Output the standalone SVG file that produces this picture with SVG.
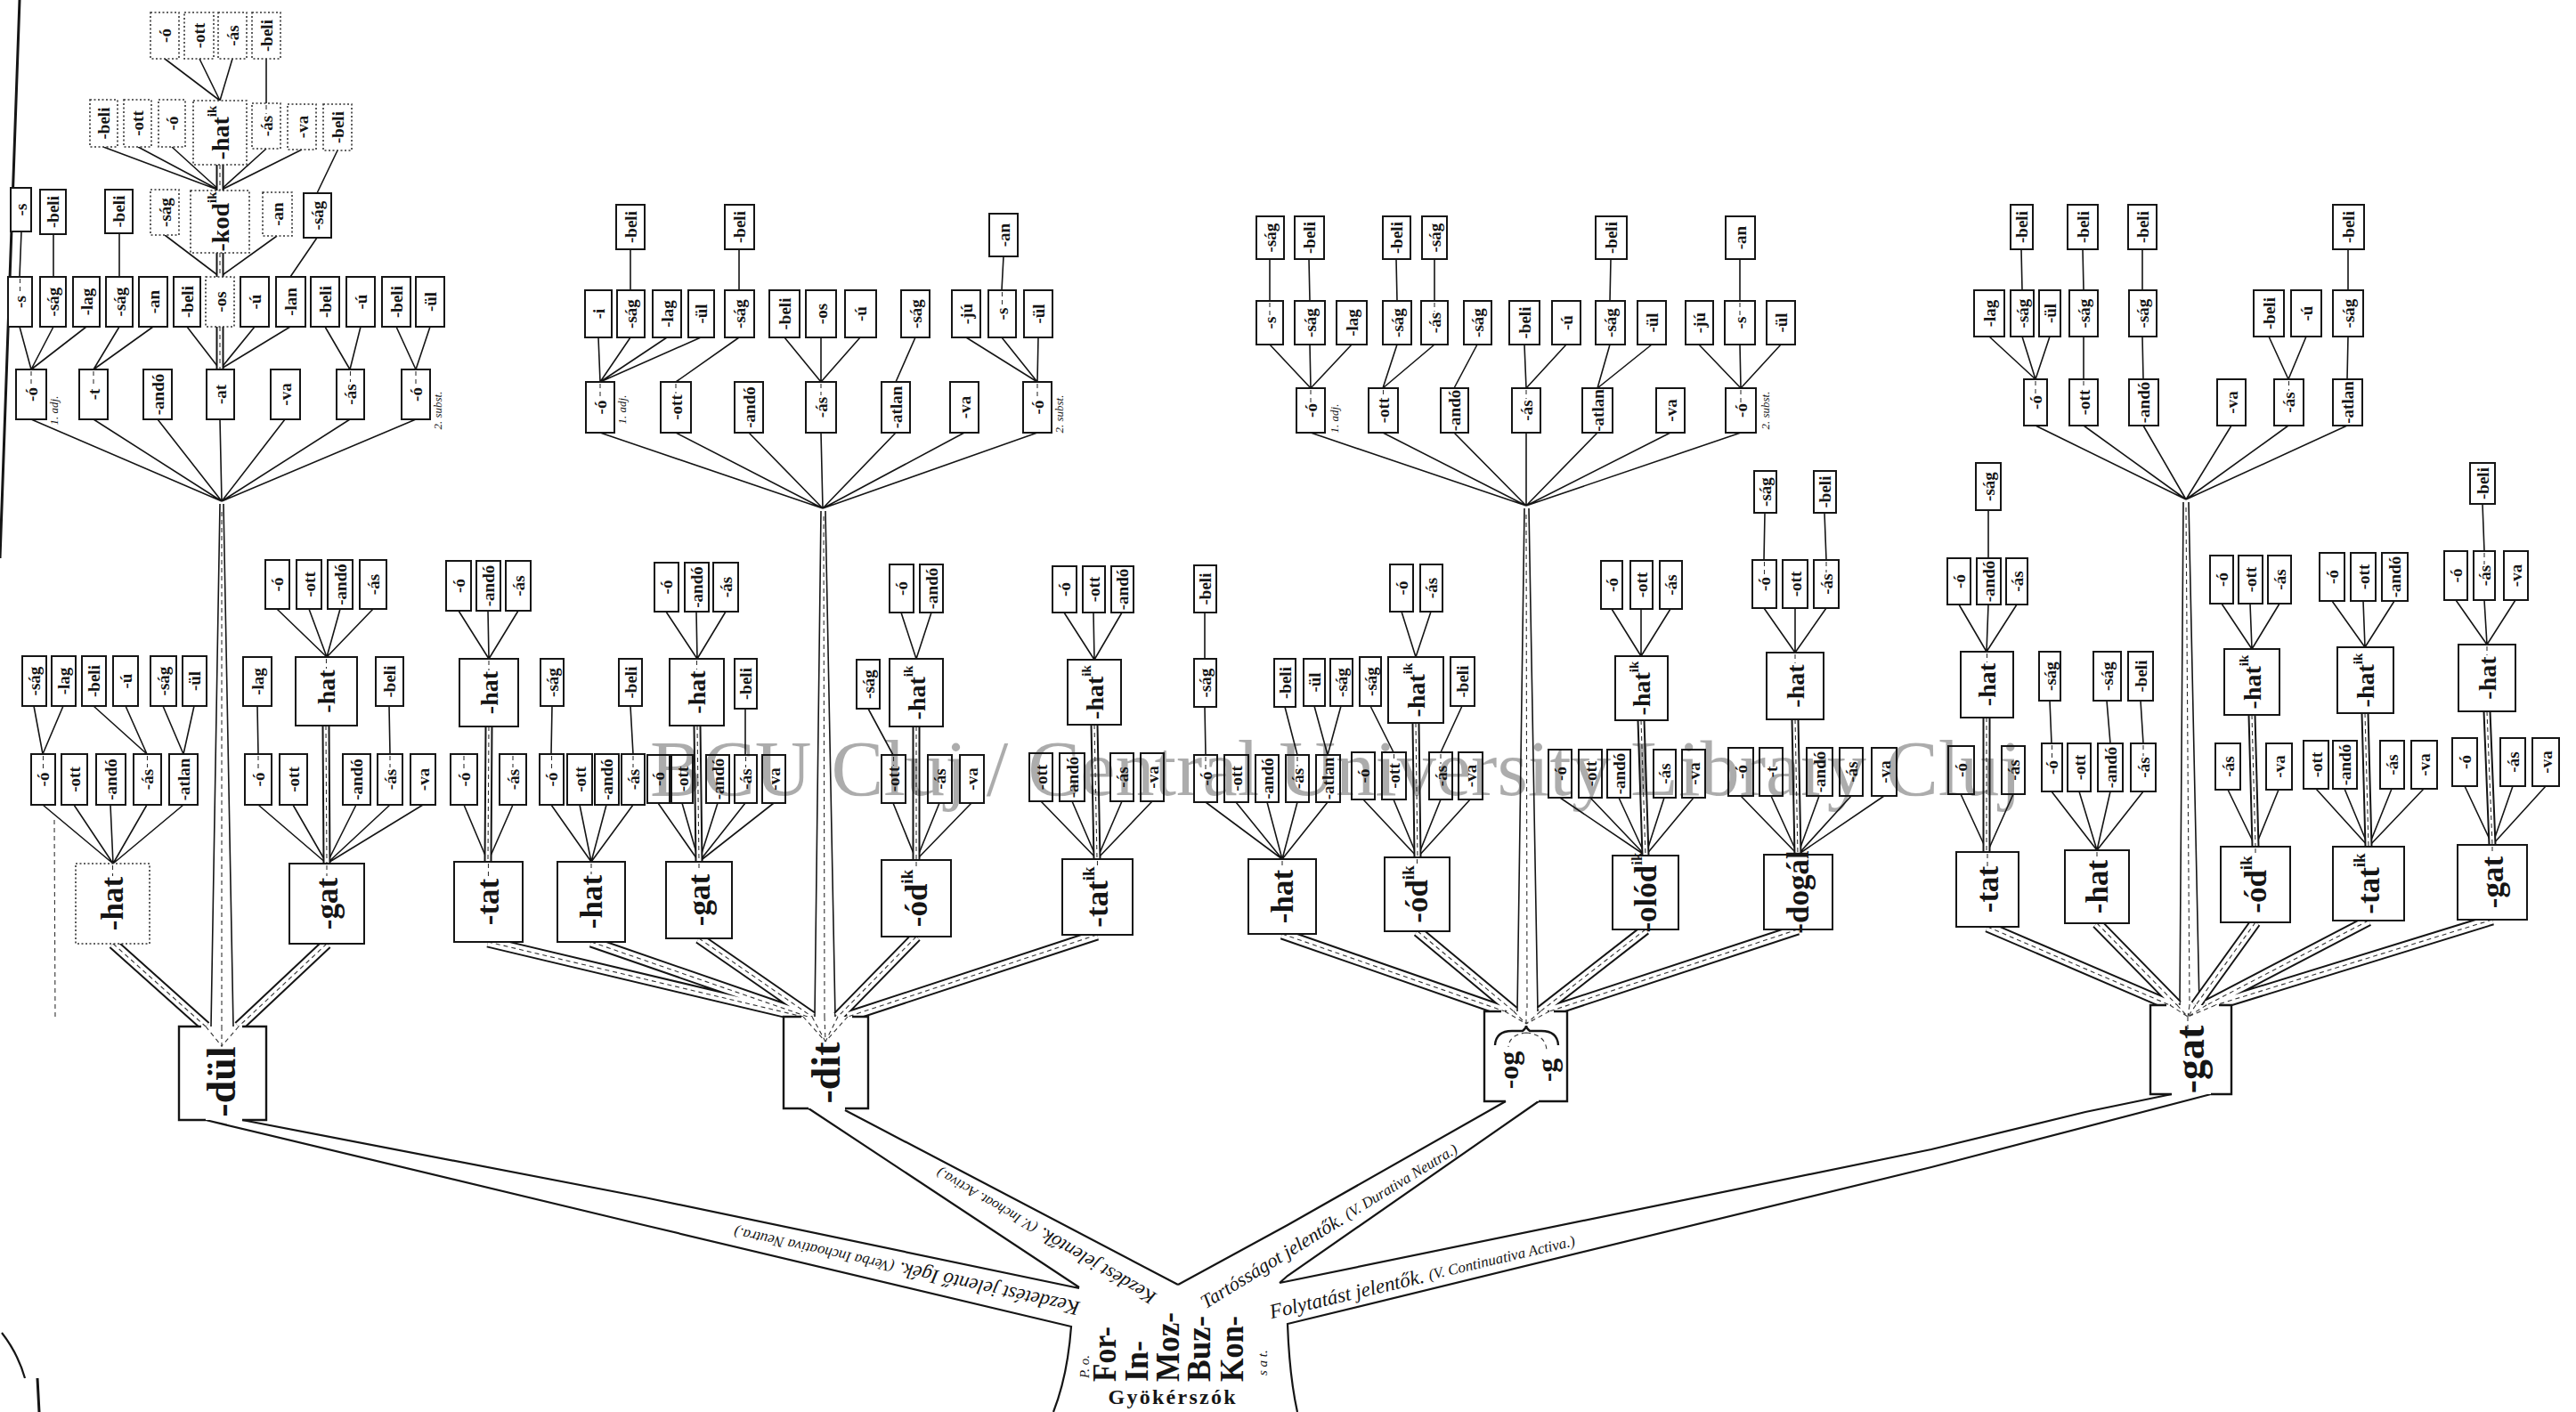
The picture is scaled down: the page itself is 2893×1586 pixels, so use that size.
<svg xmlns="http://www.w3.org/2000/svg" width="2893" height="1586" viewBox="0 0 2893 1586">
<style>
text{font-family:"Liberation Serif","DejaVu Serif",serif;fill:#151515}
.n rect{fill:#fff;stroke:#151515;stroke-width:2}
.n.d rect{stroke:#333;stroke-width:1.6;stroke-dasharray:2 2.5}
.n text{font-weight:bold;text-anchor:middle;dominant-baseline:central}
.s{font-size:19px}.m{font-size:28px}.l{font-size:35px}.x{font-size:46px}
#connectors path{fill:none;stroke:#151515}
#connectors .t{stroke-width:1.6}
#connectors .bo{stroke-width:13}
#connectors .bi{stroke:#fff;stroke-width:9}
#connectors .po{stroke-width:9}
#connectors .pi{stroke:#fff;stroke-width:5}
#connectors .bd{stroke:#333;stroke-width:1.1;stroke-dasharray:5 4}
#connectors .r{stroke-width:2.2}
#connectors .e{stroke-width:3}
.mb{fill:none;stroke:#151515;stroke-width:2.4}
.vd{fill:none;stroke:#333;stroke-width:1.1;stroke-dasharray:5 4}
.lb{font-style:italic;dominant-baseline:central}
.it{font-style:italic;font-size:13px;text-anchor:middle;dominant-baseline:central}
.rt{font-weight:bold;font-size:38px;dominant-baseline:central}
</style>
<rect width="2893" height="1586" fill="#fff"/>
<g id="connectors">
<path class="t" d="M185 66L247 113M224 66L247 113M261 66L247 113M299 66L299 116M116 165L247 214M155 165L247 214M193 165L247 214M299 167L247 214M339 168L247 214M379 169L356 217M24 260L22 311M60 263L60 311M134 262L134 311M185 264L247 311M311 265L247 311M356 267L326 311M22 367L35 415M60 367L35 415M97 367L35 415M134 367L105 415M172 367L105 415M210 367L247 415M286 367L247 415M326 367L247 415M365 367L393 415M405 367L393 415M445 367L467 415M483 367L467 415M35 471L249 563M105 471L249 563M177 471L249 563M247 471L249 563M320 471L249 563M393 471L249 563M467 471L249 563M38 793L48 847M71 793L48 847M105 793L165 847M141 793L165 847M183 793L206 847M218 793L206 847M48 904L127 970M83 904L127 970M124 904L127 970M165 904L127 970M206 904L127 970M311 684L367 738M347 684L367 738M382 684L367 738M419 684L367 738M289 793L290 847M437 793L438 847M290 904L367 970M329 904L367 970M400 904L367 970M438 904L367 970M475 904L367 970M247 566L237 1153M251 566L262 1153"/>
<path class="t" d="M708 280L708 326M830 280L830 326M1127 288L1125 326M672 379L674 429M708 379L674 429M749 379L674 429M787 379L674 429M830 379L759 429M881 379L922 429M922 379L922 429M966 379L922 429M1028 379L1006 429M1085 379L1165 429M1125 379L1165 429M1166 379L1165 429M674 486L924 571M759 486L924 571M841 486L924 571M922 486L924 571M1006 486L924 571M1083 486L924 571M1165 486L924 571M515 686L549 740M548 686L549 740M582 686L549 740M521 904L548 968M576 904L548 968M620 793L619 847M708 793L711 847M619 904L664 968M651 904L664 968M681 904L664 968M711 904L664 968M748 687L783 740M782 687L783 740M815 687L783 740M837 796L837 848M739 902L785 968M766 902L785 968M806 902L785 968M837 902L785 968M869 902L785 968M1012 688L1029 740M1046 688L1029 740M975 796L1003 848M1003 902L1029 966M1055 902L1029 966M1091 902L1029 966M1195 688L1229 741M1228 688L1229 741M1260 688L1229 741M1169 900L1232 965M1204 900L1232 965M1260 900L1232 965M1294 900L1232 965M922 574L915 1142M927 574L938 1142"/>
<path class="t" d="M1426 291L1426 338M1470 291L1471 338M1568 291L1569 338M1611 291L1611 338M1809 291L1808 338M1954 291L1954 338M1426 387L1472 436M1471 387L1472 436M1518 387L1472 436M1569 387L1553 436M1611 387L1553 436M1659 387L1633 436M1712 387L1714 436M1759 387L1714 436M1808 387L1794 436M1855 387L1794 436M1908 387L1955 436M1954 387L1955 436M2000 387L1955 436M1472 486L1714 568M1553 486L1714 568M1633 486L1714 568M1714 486L1714 568M1794 486L1714 568M1876 486L1714 568M1955 486L1714 568M1353 688L1353 740M1353 794L1354 848M1443 794L1457 848M1476 793L1491 848M1506 793L1491 848M1354 901L1440 965M1388 901L1440 965M1423 901L1440 965M1457 901L1440 965M1491 901L1440 965M1574 687L1590 738M1607 687L1590 738M1539 793L1565 845M1642 793L1618 845M1531 898L1592 963M1565 898L1592 963M1618 898L1592 963M1651 898L1592 963M1810 684L1843 737M1843 684L1843 737M1876 684L1843 737M1752 896L1848 961M1786 896L1848 961M1818 896L1848 961M1869 896L1848 961M1902 896L1848 961M1982 576L1981 629M2049 576L2051 629M1981 683L2016 733M2016 683L2016 733M2051 683L2016 733M1955 894L2019 960M1989 894L2019 960M2043 894L2019 960M2079 894L2019 960M2116 894L2019 960M1712 571L1704 1136M1717 571L1727 1136"/>
<path class="t" d="M2270 280L2271 326M2339 280L2340 326M2406 280L2406 326M2637 280L2637 326M2234 378L2286 426M2271 378L2286 426M2302 378L2286 426M2340 378L2340 426M2406 378L2407 426M2548 378L2570 426M2590 378L2570 426M2637 378L2636 426M2286 478L2455 561M2340 478L2455 561M2407 478L2455 561M2506 478L2455 561M2570 478L2455 561M2636 478L2455 561M2233 573L2233 627M2200 679L2231 732M2233 679L2231 732M2265 679L2231 732M2202 892L2232 957M2261 892L2232 957M2302 787L2304 835M2366 787L2370 835M2404 787L2407 835M2304 889L2355 955M2335 889L2355 955M2370 889L2355 955M2407 889L2355 955M2495 678L2529 729M2527 678L2529 729M2560 678L2529 729M2502 887L2533 951M2559 887L2533 951M2619 675L2656 727M2654 675L2656 727M2689 675L2656 727M2601 886L2660 951M2633 886L2660 951M2686 886L2660 951M2722 886L2660 951M2788 566L2790 619M2758 674L2793 724M2790 674L2793 724M2825 674L2793 724M2768 883L2799 949M2822 883L2799 949M2859 883L2799 949M2452 564L2448 1129M2458 564L2470 1129"/>
<path class="bd" d="M61 921L62 1146M249 575L249 1153M925 580L926 1142M1714 578L1715 1136M2455 570L2459 1129"/>
<path class="po" d="M247 185L247 214M247 284L247 311M247 367L247 415M366 815L367 970M549 816L548 968M783 815L785 968M1029 816L1029 966M1229 814L1232 965M1590 812L1592 963M1843 809L1848 961M2016 808L2019 960M2231 806L2231 957M2529 803L2533 951M2656 801L2660 951M2793 799L2799 949"/>
<path class="pi" d="M247 185L247 214M247 284L247 311M247 367L247 415M366 815L367 970M549 816L548 968M783 815L785 968M1029 816L1029 966M1229 814L1232 965M1590 812L1592 963M1843 809L1848 961M2016 808L2019 960M2231 806L2231 957M2529 803L2533 951M2656 801L2660 951M2793 799L2799 949"/>
<path class="bd" d="M247 185L247 214M247 284L247 311M247 367L247 415M366 815L367 970M549 816L548 968M783 815L785 968M1029 816L1029 966M1229 814L1232 965M1590 812L1592 963M1843 809L1848 961M2016 808L2019 960M2231 806L2231 957M2529 803L2533 951M2656 801L2660 951M2793 799L2799 949"/>
<path class="bo" d="M127 1060L231 1153M367 1060L268 1153M548 1058L902 1142M664 1058L907 1142M785 1054L912 1142M1029 1052L941 1142M1232 1050L952 1142M1440 1049L1690 1136M1592 1046L1700 1136M1848 1044L1730 1136M2019 1044L1740 1136M2232 1041L2437 1129M2355 1037L2445 1129M2533 1036L2466 1129M2660 1034L2478 1129M2799 1033L2488 1129"/>
<path class="bi" d="M127 1060L231 1153M367 1060L268 1153M548 1058L902 1142M664 1058L907 1142M785 1054L912 1142M1029 1052L941 1142M1232 1050L952 1142M1440 1049L1690 1136M1592 1046L1700 1136M1848 1044L1730 1136M2019 1044L1740 1136M2232 1041L2437 1129M2355 1037L2445 1129M2533 1036L2466 1129M2660 1034L2478 1129M2799 1033L2488 1129"/>
<path class="bd" d="M127 1060L231 1153M367 1060L268 1153M548 1058L902 1142M664 1058L907 1142M785 1054L912 1142M1029 1052L941 1142M1232 1050L952 1142M1440 1049L1690 1136M1592 1046L1700 1136M1848 1044L1730 1136M2019 1044L1740 1136M2232 1041L2437 1129M2355 1037L2445 1129M2533 1036L2466 1129M2660 1034L2478 1129M2799 1033L2488 1129"/>
<path class="r" d="M272 1258L724 1345L1212 1447M231 1258L723 1376L1203 1490Q1199 1545 1183 1586M908 1245L1212 1446M949 1247L1323 1443M1691 1237L1446 1376L1323 1443M1728 1237L1446 1433L1437 1441M2439 1229L2342 1249L2169 1291L1437 1441M2483 1229L2169 1311L1446 1487Q1448 1545 1457 1586"/>
<path class="e" d="M22 0L0 627M42 1548L44 1586"/>
<path class="r" d="M2 1497Q20 1520 28 1548"/>
</g>
<g id="nodes">
<g id="a1" class="n d"><rect x="169" y="14" width="32" height="52"/><text class="s" x="185" y="40" transform="rotate(-90 185 40)">-ó</text></g>
<g id="a2" class="n d"><rect x="207" y="14" width="33" height="52"/><text class="s" x="223.5" y="40" transform="rotate(-90 223.5 40)">-ott</text></g>
<g id="a3" class="n d"><rect x="245" y="14" width="32" height="52"/><text class="s" x="261" y="40" transform="rotate(-90 261 40)">-ás</text></g>
<g id="a4" class="n d"><rect x="283" y="14" width="32" height="52"/><text class="s" x="299" y="40" transform="rotate(-90 299 40)">-beli</text></g>
<g id="a5" class="n d"><rect x="101" y="112" width="31" height="53"/><text class="s" x="116.5" y="138.5" transform="rotate(-90 116.5 138.5)">-beli</text></g>
<g id="a6" class="n d"><rect x="139" y="112" width="31" height="53"/><text class="s" x="154.5" y="138.5" transform="rotate(-90 154.5 138.5)">-ott</text></g>
<g id="a7" class="n d"><rect x="178" y="112" width="30" height="53"/><text class="s" x="193" y="138.5" transform="rotate(-90 193 138.5)">-ó</text></g>
<g id="a8" class="n d"><rect x="217" y="113" width="60" height="72"/><text class="m" x="247" y="149" transform="rotate(-90 247 149)">-hat<tspan font-size="15" dy="-9">ik</tspan></text></g>
<g id="a9" class="n d"><rect x="283" y="116" width="32" height="51"/><text class="s" x="299" y="141.5" transform="rotate(-90 299 141.5)">-ás</text></g>
<g id="a10" class="n d"><rect x="323" y="117" width="32" height="51"/><text class="s" x="339" y="142.5" transform="rotate(-90 339 142.5)">-va</text></g>
<g id="a11" class="n d"><rect x="363" y="117" width="32" height="52"/><text class="s" x="379" y="143" transform="rotate(-90 379 143)">-beli</text></g>
<g id="a12" class="n"><rect x="12" y="211" width="23" height="49"/><text class="s" x="23.5" y="235.5" transform="rotate(-90 23.5 235.5)">-s</text></g>
<g id="a13" class="n"><rect x="45" y="213" width="29" height="50"/><text class="s" x="59.5" y="238" transform="rotate(-90 59.5 238)">-beli</text></g>
<g id="a14" class="n"><rect x="118" y="213" width="31" height="49"/><text class="s" x="133.5" y="237.5" transform="rotate(-90 133.5 237.5)">-beli</text></g>
<g id="a15" class="n d"><rect x="169" y="213" width="32" height="51"/><text class="s" x="185" y="238.5" transform="rotate(-90 185 238.5)">-ság</text></g>
<g id="a16" class="n d"><rect x="214" y="214" width="66" height="70"/><text class="m" x="247" y="249" transform="rotate(-90 247 249)" font-size="26">-kod<tspan font-size="15" dy="-9">ik</tspan></text></g>
<g id="a17" class="n d"><rect x="295" y="216" width="33" height="49"/><text class="s" x="311.5" y="240.5" transform="rotate(-90 311.5 240.5)">-an</text></g>
<g id="a18" class="n"><rect x="341" y="217" width="31" height="50"/><text class="s" x="356.5" y="242" transform="rotate(-90 356.5 242)">-ság</text></g>
<g id="a19" class="n"><rect x="9" y="311" width="27" height="56"/><text class="s" x="22.5" y="339" transform="rotate(-90 22.5 339)">-s</text></g>
<g id="a20" class="n"><rect x="45" y="311" width="29" height="56"/><text class="s" x="59.5" y="339" transform="rotate(-90 59.5 339)">-ság</text></g>
<g id="a21" class="n"><rect x="82" y="311" width="30" height="56"/><text class="s" x="97" y="339" transform="rotate(-90 97 339)">-lag</text></g>
<g id="a22" class="n"><rect x="119" y="311" width="30" height="56"/><text class="s" x="134" y="339" transform="rotate(-90 134 339)">-ság</text></g>
<g id="a23" class="n"><rect x="156" y="311" width="32" height="56"/><text class="s" x="172" y="339" transform="rotate(-90 172 339)">-an</text></g>
<g id="a24" class="n"><rect x="195" y="311" width="30" height="56"/><text class="s" x="210" y="339" transform="rotate(-90 210 339)">-beli</text></g>
<g id="a25" class="n d"><rect x="231" y="311" width="32" height="56"/><text class="s" x="247" y="339" transform="rotate(-90 247 339)">-os</text></g>
<g id="a26" class="n"><rect x="270" y="311" width="32" height="56"/><text class="s" x="286" y="339" transform="rotate(-90 286 339)">-ú</text></g>
<g id="a27" class="n"><rect x="310" y="311" width="33" height="56"/><text class="s" x="326.5" y="339" transform="rotate(-90 326.5 339)">-lan</text></g>
<g id="a28" class="n"><rect x="349" y="311" width="32" height="56"/><text class="s" x="365" y="339" transform="rotate(-90 365 339)">-beli</text></g>
<g id="a29" class="n"><rect x="389" y="311" width="32" height="56"/><text class="s" x="405" y="339" transform="rotate(-90 405 339)">-ú</text></g>
<g id="a30" class="n"><rect x="429" y="311" width="32" height="56"/><text class="s" x="445" y="339" transform="rotate(-90 445 339)">-beli</text></g>
<g id="a31" class="n"><rect x="467" y="311" width="32" height="56"/><text class="s" x="483" y="339" transform="rotate(-90 483 339)">-ül</text></g>
<g id="a32" class="n"><rect x="18" y="415" width="34" height="56"/><text class="s" x="35" y="443" transform="rotate(-90 35 443)">-ó</text></g>
<g id="a33" class="n"><rect x="89" y="415" width="32" height="56"/><text class="s" x="105" y="443" transform="rotate(-90 105 443)">-t</text></g>
<g id="a34" class="n"><rect x="161" y="415" width="32" height="56"/><text class="s" x="177" y="443" transform="rotate(-90 177 443)">-andó</text></g>
<g id="a35" class="n"><rect x="232" y="415" width="31" height="56"/><text class="s" x="247.5" y="443" transform="rotate(-90 247.5 443)">-at</text></g>
<g id="a36" class="n"><rect x="304" y="415" width="33" height="56"/><text class="s" x="320.5" y="443" transform="rotate(-90 320.5 443)">-va</text></g>
<g id="a37" class="n"><rect x="378" y="415" width="31" height="56"/><text class="s" x="393.5" y="443" transform="rotate(-90 393.5 443)">-ás</text></g>
<g id="a38" class="n"><rect x="451" y="415" width="32" height="56"/><text class="s" x="467" y="443" transform="rotate(-90 467 443)">-ó</text></g>
<g id="a39" class="n"><rect x="25" y="737" width="27" height="56"/><text class="s" x="38.5" y="765" transform="rotate(-90 38.5 765)">-ság</text></g>
<g id="a40" class="n"><rect x="58" y="737" width="27" height="56"/><text class="s" x="71.5" y="765" transform="rotate(-90 71.5 765)">-lag</text></g>
<g id="a41" class="n"><rect x="92" y="737" width="27" height="56"/><text class="s" x="105.5" y="765" transform="rotate(-90 105.5 765)">-beli</text></g>
<g id="a42" class="n"><rect x="127" y="737" width="28" height="56"/><text class="s" x="141" y="765" transform="rotate(-90 141 765)">-ú</text></g>
<g id="a43" class="n"><rect x="169" y="737" width="29" height="56"/><text class="s" x="183.5" y="765" transform="rotate(-90 183.5 765)">-ság</text></g>
<g id="a44" class="n"><rect x="205" y="737" width="27" height="56"/><text class="s" x="218.5" y="765" transform="rotate(-90 218.5 765)">-ül</text></g>
<g id="a45" class="n"><rect x="35" y="847" width="27" height="57"/><text class="s" x="48.5" y="875.5" transform="rotate(-90 48.5 875.5)">-ó</text></g>
<g id="a46" class="n"><rect x="69" y="847" width="29" height="57"/><text class="s" x="83.5" y="875.5" transform="rotate(-90 83.5 875.5)">-ott</text></g>
<g id="a47" class="n"><rect x="108" y="847" width="33" height="57"/><text class="s" x="124.5" y="875.5" transform="rotate(-90 124.5 875.5)">-andó</text></g>
<g id="a48" class="n"><rect x="150" y="847" width="31" height="57"/><text class="s" x="165.5" y="875.5" transform="rotate(-90 165.5 875.5)">-ás</text></g>
<g id="a49" class="n"><rect x="190" y="847" width="32" height="57"/><text class="s" x="206" y="875.5" transform="rotate(-90 206 875.5)">-atlan</text></g>
<g id="a50" class="n d"><rect x="85" y="970" width="83" height="90"/><text class="l" x="126.5" y="1015" transform="rotate(-90 126.5 1015)">-hat</text></g>
<g id="a51" class="n"><rect x="298" y="629" width="27" height="55"/><text class="s" x="311.5" y="656.5" transform="rotate(-90 311.5 656.5)">-ó</text></g>
<g id="a52" class="n"><rect x="333" y="629" width="28" height="55"/><text class="s" x="347" y="656.5" transform="rotate(-90 347 656.5)">-ott</text></g>
<g id="a53" class="n"><rect x="368" y="629" width="28" height="55"/><text class="s" x="382" y="656.5" transform="rotate(-90 382 656.5)">-andó</text></g>
<g id="a54" class="n"><rect x="404" y="629" width="30" height="55"/><text class="s" x="419" y="656.5" transform="rotate(-90 419 656.5)">-ás</text></g>
<g id="a55" class="n"><rect x="273" y="738" width="32" height="55"/><text class="s" x="289" y="765.5" transform="rotate(-90 289 765.5)">-lag</text></g>
<g id="a56" class="n"><rect x="332" y="738" width="69" height="77"/><text class="m" x="366.5" y="776.5" transform="rotate(-90 366.5 776.5)">-hat</text></g>
<g id="a57" class="n"><rect x="422" y="738" width="31" height="55"/><text class="s" x="437.5" y="765.5" transform="rotate(-90 437.5 765.5)">-beli</text></g>
<g id="a58" class="n"><rect x="275" y="847" width="30" height="57"/><text class="s" x="290" y="875.5" transform="rotate(-90 290 875.5)">-ó</text></g>
<g id="a59" class="n"><rect x="314" y="847" width="31" height="57"/><text class="s" x="329.5" y="875.5" transform="rotate(-90 329.5 875.5)">-ott</text></g>
<g id="a60" class="n"><rect x="385" y="847" width="31" height="57"/><text class="s" x="400.5" y="875.5" transform="rotate(-90 400.5 875.5)">-andó</text></g>
<g id="a61" class="n"><rect x="424" y="847" width="28" height="57"/><text class="s" x="438" y="875.5" transform="rotate(-90 438 875.5)">-ás</text></g>
<g id="a62" class="n"><rect x="461" y="847" width="28" height="57"/><text class="s" x="475" y="875.5" transform="rotate(-90 475 875.5)">-va</text></g>
<g id="a63" class="n"><rect x="325" y="970" width="84" height="90"/><text class="l" x="367" y="1015" transform="rotate(-90 367 1015)">-gat</text></g>
<g id="a64"><rect x="201" y="1153" width="98" height="105" fill="#fff"/><path class="mb" d="M226 1153H201V1258H231M272 1258H299V1153H272"/><path class="vd" d="M231 1153L249 1175M268 1153L249 1175M249 1153L249 1180"/><g class="n"><text class="x" x="248" y="1215" transform="rotate(-90 248 1215)">-dül</text></g></g>
<g id="b1" class="n"><rect x="692" y="230" width="32" height="50"/><text class="s" x="708" y="255" transform="rotate(-90 708 255)">-beli</text></g>
<g id="b2" class="n"><rect x="814" y="230" width="33" height="50"/><text class="s" x="830.5" y="255" transform="rotate(-90 830.5 255)">-beli</text></g>
<g id="b3" class="n"><rect x="1111" y="240" width="32" height="48"/><text class="s" x="1127" y="264" transform="rotate(-90 1127 264)">-an</text></g>
<g id="b4" class="n"><rect x="657" y="326" width="30" height="53"/><text class="s" x="672" y="352.5" transform="rotate(-90 672 352.5)">-i</text></g>
<g id="b5" class="n"><rect x="693" y="326" width="31" height="53"/><text class="s" x="708.5" y="352.5" transform="rotate(-90 708.5 352.5)">-ság</text></g>
<g id="b6" class="n"><rect x="733" y="326" width="32" height="53"/><text class="s" x="749" y="352.5" transform="rotate(-90 749 352.5)">-lag</text></g>
<g id="b7" class="n"><rect x="773" y="326" width="29" height="53"/><text class="s" x="787.5" y="352.5" transform="rotate(-90 787.5 352.5)">-ül</text></g>
<g id="b8" class="n"><rect x="814" y="326" width="33" height="53"/><text class="s" x="830.5" y="352.5" transform="rotate(-90 830.5 352.5)">-ság</text></g>
<g id="b9" class="n"><rect x="864" y="326" width="34" height="53"/><text class="s" x="881" y="352.5" transform="rotate(-90 881 352.5)">-beli</text></g>
<g id="b10" class="n"><rect x="905" y="326" width="34" height="53"/><text class="s" x="922" y="352.5" transform="rotate(-90 922 352.5)">-os</text></g>
<g id="b11" class="n"><rect x="949" y="326" width="35" height="53"/><text class="s" x="966.5" y="352.5" transform="rotate(-90 966.5 352.5)">-ú</text></g>
<g id="b12" class="n"><rect x="1012" y="326" width="32" height="53"/><text class="s" x="1028" y="352.5" transform="rotate(-90 1028 352.5)">-ság</text></g>
<g id="b13" class="n"><rect x="1069" y="326" width="32" height="53"/><text class="s" x="1085" y="352.5" transform="rotate(-90 1085 352.5)">-jú</text></g>
<g id="b14" class="n"><rect x="1110" y="326" width="31" height="53"/><text class="s" x="1125.5" y="352.5" transform="rotate(-90 1125.5 352.5)">-s</text></g>
<g id="b15" class="n"><rect x="1150" y="326" width="32" height="53"/><text class="s" x="1166" y="352.5" transform="rotate(-90 1166 352.5)">-ül</text></g>
<g id="b16" class="n"><rect x="658" y="429" width="32" height="57"/><text class="s" x="674" y="457.5" transform="rotate(-90 674 457.5)">-ó</text></g>
<g id="b17" class="n"><rect x="742" y="429" width="34" height="57"/><text class="s" x="759" y="457.5" transform="rotate(-90 759 457.5)">-ott</text></g>
<g id="b18" class="n"><rect x="825" y="429" width="32" height="57"/><text class="s" x="841" y="457.5" transform="rotate(-90 841 457.5)">-andó</text></g>
<g id="b19" class="n"><rect x="905" y="429" width="34" height="57"/><text class="s" x="922" y="457.5" transform="rotate(-90 922 457.5)">-ás</text></g>
<g id="b20" class="n"><rect x="990" y="429" width="32" height="57"/><text class="s" x="1006" y="457.5" transform="rotate(-90 1006 457.5)">-atlan</text></g>
<g id="b21" class="n"><rect x="1067" y="429" width="32" height="57"/><text class="s" x="1083" y="457.5" transform="rotate(-90 1083 457.5)">-va</text></g>
<g id="b22" class="n"><rect x="1149" y="429" width="32" height="57"/><text class="s" x="1165" y="457.5" transform="rotate(-90 1165 457.5)">-ó</text></g>
<g id="b23" class="n"><rect x="501" y="630" width="28" height="56"/><text class="s" x="515" y="658" transform="rotate(-90 515 658)">-ó</text></g>
<g id="b24" class="n"><rect x="535" y="630" width="27" height="56"/><text class="s" x="548.5" y="658" transform="rotate(-90 548.5 658)">-andó</text></g>
<g id="b25" class="n"><rect x="568" y="630" width="28" height="56"/><text class="s" x="582" y="658" transform="rotate(-90 582 658)">-ás</text></g>
<g id="b26" class="n"><rect x="516" y="740" width="66" height="76"/><text class="m" x="549" y="778" transform="rotate(-90 549 778)">-hat</text></g>
<g id="b27" class="n"><rect x="506" y="847" width="30" height="57"/><text class="s" x="521" y="875.5" transform="rotate(-90 521 875.5)">-ó</text></g>
<g id="b28" class="n"><rect x="561" y="847" width="30" height="57"/><text class="s" x="576" y="875.5" transform="rotate(-90 576 875.5)">-ás</text></g>
<g id="b29" class="n"><rect x="510" y="968" width="77" height="90"/><text class="l" x="548.5" y="1013" transform="rotate(-90 548.5 1013)">-tat</text></g>
<g id="b30" class="n"><rect x="607" y="740" width="26" height="53"/><text class="s" x="620" y="766.5" transform="rotate(-90 620 766.5)">-ság</text></g>
<g id="b31" class="n"><rect x="695" y="740" width="26" height="53"/><text class="s" x="708" y="766.5" transform="rotate(-90 708 766.5)">-beli</text></g>
<g id="b32" class="n"><rect x="606" y="847" width="27" height="57"/><text class="s" x="619.5" y="875.5" transform="rotate(-90 619.5 875.5)">-ó</text></g>
<g id="b33" class="n"><rect x="637" y="847" width="28" height="57"/><text class="s" x="651" y="875.5" transform="rotate(-90 651 875.5)">-ott</text></g>
<g id="b34" class="n"><rect x="668" y="847" width="27" height="57"/><text class="s" x="681.5" y="875.5" transform="rotate(-90 681.5 875.5)">-andó</text></g>
<g id="b35" class="n"><rect x="698" y="847" width="26" height="57"/><text class="s" x="711" y="875.5" transform="rotate(-90 711 875.5)">-ás</text></g>
<g id="b36" class="n"><rect x="626" y="968" width="76" height="90"/><text class="l" x="664" y="1013" transform="rotate(-90 664 1013)">-hat</text></g>
<g id="b37" class="n"><rect x="735" y="632" width="27" height="55"/><text class="s" x="748.5" y="659.5" transform="rotate(-90 748.5 659.5)">-ó</text></g>
<g id="b38" class="n"><rect x="769" y="632" width="27" height="55"/><text class="s" x="782.5" y="659.5" transform="rotate(-90 782.5 659.5)">-andó</text></g>
<g id="b39" class="n"><rect x="801" y="632" width="28" height="55"/><text class="s" x="815" y="659.5" transform="rotate(-90 815 659.5)">-ás</text></g>
<g id="b40" class="n"><rect x="752" y="740" width="61" height="75"/><text class="m" x="782.5" y="777.5" transform="rotate(-90 782.5 777.5)">-hat</text></g>
<g id="b41" class="n"><rect x="825" y="740" width="25" height="56"/><text class="s" x="837.5" y="768" transform="rotate(-90 837.5 768)">-beli</text></g>
<g id="b42" class="n"><rect x="727" y="848" width="25" height="54"/><text class="s" x="739.5" y="875" transform="rotate(-90 739.5 875)">-ó</text></g>
<g id="b43" class="n"><rect x="754" y="848" width="24" height="54"/><text class="s" x="766" y="875" transform="rotate(-90 766 875)">-ott</text></g>
<g id="b44" class="n"><rect x="793" y="848" width="26" height="54"/><text class="s" x="806" y="875" transform="rotate(-90 806 875)">-andó</text></g>
<g id="b45" class="n"><rect x="825" y="848" width="25" height="54"/><text class="s" x="837.5" y="875" transform="rotate(-90 837.5 875)">-ás</text></g>
<g id="b46" class="n"><rect x="856" y="848" width="26" height="54"/><text class="s" x="869" y="875" transform="rotate(-90 869 875)">-va</text></g>
<g id="b47" class="n"><rect x="748" y="968" width="74" height="86"/><text class="l" x="785" y="1011" transform="rotate(-90 785 1011)">-gat</text></g>
<g id="b48" class="n"><rect x="999" y="634" width="27" height="54"/><text class="s" x="1012.5" y="661" transform="rotate(-90 1012.5 661)">-ó</text></g>
<g id="b49" class="n"><rect x="1033" y="634" width="26" height="54"/><text class="s" x="1046" y="661" transform="rotate(-90 1046 661)">-andó</text></g>
<g id="b50" class="n"><rect x="999" y="740" width="60" height="76"/><text class="m" x="1029" y="778" transform="rotate(-90 1029 778)">-hat<tspan font-size="15" dy="-9">ik</tspan></text></g>
<g id="b51" class="n"><rect x="962" y="741" width="26" height="55"/><text class="s" x="975" y="768.5" transform="rotate(-90 975 768.5)">-ság</text></g>
<g id="b52" class="n"><rect x="990" y="848" width="27" height="54"/><text class="s" x="1003.5" y="875" transform="rotate(-90 1003.5 875)">-ott</text></g>
<g id="b53" class="n"><rect x="1042" y="848" width="27" height="54"/><text class="s" x="1055.5" y="875" transform="rotate(-90 1055.5 875)">-ás</text></g>
<g id="b54" class="n"><rect x="1078" y="848" width="27" height="54"/><text class="s" x="1091.5" y="875" transform="rotate(-90 1091.5 875)">-va</text></g>
<g id="b55" class="n"><rect x="990" y="966" width="78" height="86"/><text class="l" x="1029" y="1009" transform="rotate(-90 1029 1009)">-ód<tspan font-size="19" dy="-11">ik</tspan></text></g>
<g id="b56" class="n"><rect x="1182" y="636" width="27" height="52"/><text class="s" x="1195.5" y="662" transform="rotate(-90 1195.5 662)">-ó</text></g>
<g id="b57" class="n"><rect x="1216" y="636" width="25" height="52"/><text class="s" x="1228.5" y="662" transform="rotate(-90 1228.5 662)">-ott</text></g>
<g id="b58" class="n"><rect x="1248" y="636" width="25" height="52"/><text class="s" x="1260.5" y="662" transform="rotate(-90 1260.5 662)">-andó</text></g>
<g id="b59" class="n"><rect x="1199" y="741" width="60" height="73"/><text class="m" x="1229" y="777.5" transform="rotate(-90 1229 777.5)">-hat<tspan font-size="15" dy="-9">ik</tspan></text></g>
<g id="b60" class="n"><rect x="1156" y="846" width="26" height="54"/><text class="s" x="1169" y="873" transform="rotate(-90 1169 873)">-ott</text></g>
<g id="b61" class="n"><rect x="1190" y="846" width="28" height="54"/><text class="s" x="1204" y="873" transform="rotate(-90 1204 873)">-andó</text></g>
<g id="b62" class="n"><rect x="1247" y="846" width="26" height="54"/><text class="s" x="1260" y="873" transform="rotate(-90 1260 873)">-ás</text></g>
<g id="b63" class="n"><rect x="1281" y="846" width="26" height="54"/><text class="s" x="1294" y="873" transform="rotate(-90 1294 873)">-va</text></g>
<g id="b64" class="n"><rect x="1193" y="965" width="79" height="85"/><text class="l" x="1232.5" y="1007.5" transform="rotate(-90 1232.5 1007.5)">-tat<tspan font-size="19" dy="-11">ik</tspan></text></g>
<g id="b65"><rect x="880" y="1142" width="95" height="103" fill="#fff"/><path class="mb" d="M900 1142H880V1245H908M949 1245H975V1142H957"/><path class="vd" d="M902 1142L927 1170M912 1142L927 1170M926 1142L927 1170M941 1142L927 1170M952 1142L927 1170"/><g class="n"><text class="x" x="927" y="1205" transform="rotate(-90 927 1205)">-dit</text></g></g>
<g id="c1" class="n"><rect x="1411" y="243" width="31" height="48"/><text class="s" x="1426.5" y="267" transform="rotate(-90 1426.5 267)">-ság</text></g>
<g id="c2" class="n"><rect x="1454" y="243" width="33" height="48"/><text class="s" x="1470.5" y="267" transform="rotate(-90 1470.5 267)">-beli</text></g>
<g id="c3" class="n"><rect x="1553" y="243" width="31" height="48"/><text class="s" x="1568.5" y="267" transform="rotate(-90 1568.5 267)">-beli</text></g>
<g id="c4" class="n"><rect x="1597" y="243" width="28" height="48"/><text class="s" x="1611" y="267" transform="rotate(-90 1611 267)">-ság</text></g>
<g id="c5" class="n"><rect x="1792" y="243" width="35" height="48"/><text class="s" x="1809.5" y="267" transform="rotate(-90 1809.5 267)">-beli</text></g>
<g id="c6" class="n"><rect x="1938" y="243" width="33" height="48"/><text class="s" x="1954.5" y="267" transform="rotate(-90 1954.5 267)">-an</text></g>
<g id="c7" class="n"><rect x="1411" y="338" width="30" height="49"/><text class="s" x="1426" y="362.5" transform="rotate(-90 1426 362.5)">-s</text></g>
<g id="c8" class="n"><rect x="1454" y="338" width="34" height="49"/><text class="s" x="1471" y="362.5" transform="rotate(-90 1471 362.5)">-ság</text></g>
<g id="c9" class="n"><rect x="1501" y="338" width="34" height="49"/><text class="s" x="1518" y="362.5" transform="rotate(-90 1518 362.5)">-lag</text></g>
<g id="c10" class="n"><rect x="1553" y="338" width="32" height="49"/><text class="s" x="1569" y="362.5" transform="rotate(-90 1569 362.5)">-ság</text></g>
<g id="c11" class="n"><rect x="1596" y="338" width="30" height="49"/><text class="s" x="1611" y="362.5" transform="rotate(-90 1611 362.5)">-ás</text></g>
<g id="c12" class="n"><rect x="1644" y="338" width="31" height="49"/><text class="s" x="1659.5" y="362.5" transform="rotate(-90 1659.5 362.5)">-ság</text></g>
<g id="c13" class="n"><rect x="1695" y="338" width="34" height="49"/><text class="s" x="1712" y="362.5" transform="rotate(-90 1712 362.5)">-beli</text></g>
<g id="c14" class="n"><rect x="1743" y="338" width="32" height="49"/><text class="s" x="1759" y="362.5" transform="rotate(-90 1759 362.5)">-ú</text></g>
<g id="c15" class="n"><rect x="1792" y="338" width="33" height="49"/><text class="s" x="1808.5" y="362.5" transform="rotate(-90 1808.5 362.5)">-ság</text></g>
<g id="c16" class="n"><rect x="1839" y="338" width="32" height="49"/><text class="s" x="1855" y="362.5" transform="rotate(-90 1855 362.5)">-ül</text></g>
<g id="c17" class="n"><rect x="1893" y="338" width="31" height="49"/><text class="s" x="1908.5" y="362.5" transform="rotate(-90 1908.5 362.5)">-jú</text></g>
<g id="c18" class="n"><rect x="1937" y="338" width="34" height="49"/><text class="s" x="1954" y="362.5" transform="rotate(-90 1954 362.5)">-s</text></g>
<g id="c19" class="n"><rect x="1984" y="338" width="32" height="49"/><text class="s" x="2000" y="362.5" transform="rotate(-90 2000 362.5)">-ül</text></g>
<g id="c20" class="n"><rect x="1456" y="436" width="32" height="50"/><text class="s" x="1472" y="461" transform="rotate(-90 1472 461)">-ó</text></g>
<g id="c21" class="n"><rect x="1537" y="436" width="33" height="50"/><text class="s" x="1553.5" y="461" transform="rotate(-90 1553.5 461)">-ott</text></g>
<g id="c22" class="n"><rect x="1618" y="436" width="31" height="50"/><text class="s" x="1633.5" y="461" transform="rotate(-90 1633.5 461)">-andó</text></g>
<g id="c23" class="n"><rect x="1698" y="436" width="32" height="50"/><text class="s" x="1714" y="461" transform="rotate(-90 1714 461)">-ás</text></g>
<g id="c24" class="n"><rect x="1777" y="436" width="34" height="50"/><text class="s" x="1794" y="461" transform="rotate(-90 1794 461)">-atlan</text></g>
<g id="c25" class="n"><rect x="1860" y="436" width="32" height="50"/><text class="s" x="1876" y="461" transform="rotate(-90 1876 461)">-va</text></g>
<g id="c26" class="n"><rect x="1938" y="436" width="34" height="50"/><text class="s" x="1955" y="461" transform="rotate(-90 1955 461)">-ó</text></g>
<g id="c27" class="n"><rect x="1341" y="635" width="25" height="53"/><text class="s" x="1353.5" y="661.5" transform="rotate(-90 1353.5 661.5)">-beli</text></g>
<g id="c28" class="n"><rect x="1341" y="740" width="25" height="54"/><text class="s" x="1353.5" y="767" transform="rotate(-90 1353.5 767)">-ság</text></g>
<g id="c29" class="n"><rect x="1431" y="740" width="24" height="54"/><text class="s" x="1443" y="767" transform="rotate(-90 1443 767)">-beli</text></g>
<g id="c30" class="n"><rect x="1464" y="740" width="24" height="53"/><text class="s" x="1476" y="766.5" transform="rotate(-90 1476 766.5)">-ül</text></g>
<g id="c31" class="n"><rect x="1494" y="740" width="25" height="53"/><text class="s" x="1506.5" y="766.5" transform="rotate(-90 1506.5 766.5)">-ság</text></g>
<g id="c32" class="n"><rect x="1341" y="848" width="26" height="53"/><text class="s" x="1354" y="874.5" transform="rotate(-90 1354 874.5)">-ó</text></g>
<g id="c33" class="n"><rect x="1375" y="848" width="27" height="53"/><text class="s" x="1388.5" y="874.5" transform="rotate(-90 1388.5 874.5)">-ott</text></g>
<g id="c34" class="n"><rect x="1410" y="848" width="26" height="53"/><text class="s" x="1423" y="874.5" transform="rotate(-90 1423 874.5)">-andó</text></g>
<g id="c35" class="n"><rect x="1444" y="848" width="26" height="53"/><text class="s" x="1457" y="874.5" transform="rotate(-90 1457 874.5)">-ás</text></g>
<g id="c36" class="n"><rect x="1478" y="848" width="27" height="53"/><text class="s" x="1491.5" y="874.5" transform="rotate(-90 1491.5 874.5)">-atlan</text></g>
<g id="c37" class="n"><rect x="1402" y="965" width="76" height="84"/><text class="l" x="1440" y="1007" transform="rotate(-90 1440 1007)">-hat</text></g>
<g id="c38" class="n"><rect x="1561" y="634" width="26" height="53"/><text class="s" x="1574" y="660.5" transform="rotate(-90 1574 660.5)">-ó</text></g>
<g id="c39" class="n"><rect x="1595" y="634" width="25" height="53"/><text class="s" x="1607.5" y="660.5" transform="rotate(-90 1607.5 660.5)">-ás</text></g>
<g id="c40" class="n"><rect x="1527" y="738" width="24" height="55"/><text class="s" x="1539" y="765.5" transform="rotate(-90 1539 765.5)">-ság</text></g>
<g id="c41" class="n"><rect x="1559" y="738" width="62" height="74"/><text class="m" x="1590" y="775" transform="rotate(-90 1590 775)">-hat<tspan font-size="15" dy="-9">ik</tspan></text></g>
<g id="c42" class="n"><rect x="1629" y="738" width="27" height="55"/><text class="s" x="1642.5" y="765.5" transform="rotate(-90 1642.5 765.5)">-beli</text></g>
<g id="c43" class="n"><rect x="1518" y="845" width="26" height="53"/><text class="s" x="1531" y="871.5" transform="rotate(-90 1531 871.5)">-ó</text></g>
<g id="c44" class="n"><rect x="1552" y="845" width="27" height="53"/><text class="s" x="1565.5" y="871.5" transform="rotate(-90 1565.5 871.5)">-ott</text></g>
<g id="c45" class="n"><rect x="1605" y="845" width="26" height="53"/><text class="s" x="1618" y="871.5" transform="rotate(-90 1618 871.5)">-ás</text></g>
<g id="c46" class="n"><rect x="1638" y="845" width="27" height="53"/><text class="s" x="1651.5" y="871.5" transform="rotate(-90 1651.5 871.5)">-va</text></g>
<g id="c47" class="n"><rect x="1555" y="963" width="73" height="83"/><text class="l" x="1591.5" y="1004.5" transform="rotate(-90 1591.5 1004.5)">-ód<tspan font-size="19" dy="-11">ik</tspan></text></g>
<g id="c48" class="n"><rect x="1798" y="630" width="24" height="54"/><text class="s" x="1810" y="657" transform="rotate(-90 1810 657)">-ó</text></g>
<g id="c49" class="n"><rect x="1831" y="630" width="25" height="54"/><text class="s" x="1843.5" y="657" transform="rotate(-90 1843.5 657)">-ott</text></g>
<g id="c50" class="n"><rect x="1864" y="630" width="25" height="54"/><text class="s" x="1876.5" y="657" transform="rotate(-90 1876.5 657)">-ás</text></g>
<g id="c51" class="n"><rect x="1814" y="737" width="59" height="72"/><text class="m" x="1843.5" y="773" transform="rotate(-90 1843.5 773)">-hat<tspan font-size="15" dy="-9">ik</tspan></text></g>
<g id="c52" class="n"><rect x="1739" y="842" width="26" height="54"/><text class="s" x="1752" y="869" transform="rotate(-90 1752 869)">-ó</text></g>
<g id="c53" class="n"><rect x="1773" y="842" width="26" height="54"/><text class="s" x="1786" y="869" transform="rotate(-90 1786 869)">-ott</text></g>
<g id="c54" class="n"><rect x="1805" y="842" width="26" height="54"/><text class="s" x="1818" y="869" transform="rotate(-90 1818 869)">-andó</text></g>
<g id="c55" class="n"><rect x="1857" y="842" width="25" height="54"/><text class="s" x="1869.5" y="869" transform="rotate(-90 1869.5 869)">-ás</text></g>
<g id="c56" class="n"><rect x="1889" y="842" width="26" height="54"/><text class="s" x="1902" y="869" transform="rotate(-90 1902 869)">-va</text></g>
<g id="c57" class="n"><rect x="1811" y="961" width="74" height="83"/><text class="l" x="1848" y="1002.5" transform="rotate(-90 1848 1002.5)" font-size="28">-olód<tspan font-size="17" dy="-10">ik</tspan></text></g>
<g id="c58" class="n"><rect x="1970" y="529" width="25" height="47"/><text class="s" x="1982.5" y="552.5" transform="rotate(-90 1982.5 552.5)">-ság</text></g>
<g id="c59" class="n"><rect x="2037" y="529" width="25" height="47"/><text class="s" x="2049.5" y="552.5" transform="rotate(-90 2049.5 552.5)">-beli</text></g>
<g id="c60" class="n"><rect x="1968" y="629" width="27" height="54"/><text class="s" x="1981.5" y="656" transform="rotate(-90 1981.5 656)">-ó</text></g>
<g id="c61" class="n"><rect x="2002" y="629" width="28" height="54"/><text class="s" x="2016" y="656" transform="rotate(-90 2016 656)">-ott</text></g>
<g id="c62" class="n"><rect x="2037" y="629" width="28" height="54"/><text class="s" x="2051" y="656" transform="rotate(-90 2051 656)">-ás</text></g>
<g id="c63" class="n"><rect x="1984" y="733" width="64" height="75"/><text class="m" x="2016" y="770.5" transform="rotate(-90 2016 770.5)">-hat</text></g>
<g id="c64" class="n"><rect x="1941" y="840" width="28" height="54"/><text class="s" x="1955" y="867" transform="rotate(-90 1955 867)">-ó</text></g>
<g id="c65" class="n"><rect x="1976" y="840" width="26" height="54"/><text class="s" x="1989" y="867" transform="rotate(-90 1989 867)">-t</text></g>
<g id="c66" class="n"><rect x="2029" y="840" width="29" height="54"/><text class="s" x="2043.5" y="867" transform="rotate(-90 2043.5 867)">-andó</text></g>
<g id="c67" class="n"><rect x="2066" y="840" width="26" height="54"/><text class="s" x="2079" y="867" transform="rotate(-90 2079 867)">-ás</text></g>
<g id="c68" class="n"><rect x="2102" y="840" width="28" height="54"/><text class="s" x="2116" y="867" transform="rotate(-90 2116 867)">-va</text></g>
<g id="c69" class="n"><rect x="1981" y="960" width="77" height="84"/><text class="l" x="2019.5" y="1002" transform="rotate(-90 2019.5 1002)" font-size="29">-dogál</text></g>
<g id="c70"><rect x="1667" y="1136" width="93" height="101" fill="#fff"/><path class="mb" d="M1686 1136H1667V1237H1691M1728 1237H1760V1136H1745"/><path class="vd" d="M1690 1136L1714 1150M1700 1136L1714 1150M1714 1136L1714 1150M1730 1136L1714 1150M1740 1136L1714 1150M1714 1160Q1695 1162 1694 1176M1714 1160Q1736 1162 1737 1180"/><path class="mb" stroke-width="2" d="M1679 1174Q1680 1158 1698 1158L1710 1158Q1714 1155 1714 1152Q1714 1155 1718 1158L1731 1158Q1749 1158 1750 1174"/><g class="n"><text x="1694" y="1202" transform="rotate(-90 1694 1202)" font-size="32">-og</text><text x="1737" y="1202" transform="rotate(-90 1737 1202)" font-size="32">-g</text></g></g>
<g id="d1" class="n"><rect x="2258" y="230" width="25" height="50"/><text class="s" x="2270.5" y="255" transform="rotate(-90 2270.5 255)">-beli</text></g>
<g id="d2" class="n"><rect x="2322" y="230" width="34" height="50"/><text class="s" x="2339" y="255" transform="rotate(-90 2339 255)">-beli</text></g>
<g id="d3" class="n"><rect x="2390" y="230" width="32" height="50"/><text class="s" x="2406" y="255" transform="rotate(-90 2406 255)">-beli</text></g>
<g id="d4" class="n"><rect x="2620" y="230" width="35" height="50"/><text class="s" x="2637.5" y="255" transform="rotate(-90 2637.5 255)">-beli</text></g>
<g id="d5" class="n"><rect x="2217" y="326" width="34" height="52"/><text class="s" x="2234" y="352" transform="rotate(-90 2234 352)">-lag</text></g>
<g id="d6" class="n"><rect x="2258" y="326" width="26" height="52"/><text class="s" x="2271" y="352" transform="rotate(-90 2271 352)">-ság</text></g>
<g id="d7" class="n"><rect x="2290" y="326" width="24" height="52"/><text class="s" x="2302" y="352" transform="rotate(-90 2302 352)">-ül</text></g>
<g id="d8" class="n"><rect x="2324" y="326" width="32" height="52"/><text class="s" x="2340" y="352" transform="rotate(-90 2340 352)">-ság</text></g>
<g id="d9" class="n"><rect x="2391" y="326" width="31" height="52"/><text class="s" x="2406.5" y="352" transform="rotate(-90 2406.5 352)">-ság</text></g>
<g id="d10" class="n"><rect x="2531" y="326" width="34" height="52"/><text class="s" x="2548" y="352" transform="rotate(-90 2548 352)">-beli</text></g>
<g id="d11" class="n"><rect x="2573" y="326" width="34" height="52"/><text class="s" x="2590" y="352" transform="rotate(-90 2590 352)">-ú</text></g>
<g id="d12" class="n"><rect x="2620" y="326" width="34" height="52"/><text class="s" x="2637" y="352" transform="rotate(-90 2637 352)">-ság</text></g>
<g id="d13" class="n"><rect x="2273" y="426" width="26" height="52"/><text class="s" x="2286" y="452" transform="rotate(-90 2286 452)">-ó</text></g>
<g id="d14" class="n"><rect x="2324" y="426" width="32" height="52"/><text class="s" x="2340" y="452" transform="rotate(-90 2340 452)">-ott</text></g>
<g id="d15" class="n"><rect x="2391" y="426" width="33" height="52"/><text class="s" x="2407.5" y="452" transform="rotate(-90 2407.5 452)">-andó</text></g>
<g id="d16" class="n"><rect x="2490" y="426" width="32" height="52"/><text class="s" x="2506" y="452" transform="rotate(-90 2506 452)">-va</text></g>
<g id="d17" class="n"><rect x="2554" y="426" width="33" height="52"/><text class="s" x="2570.5" y="452" transform="rotate(-90 2570.5 452)">-ás</text></g>
<g id="d18" class="n"><rect x="2620" y="426" width="33" height="52"/><text class="s" x="2636.5" y="452" transform="rotate(-90 2636.5 452)">-atlan</text></g>
<g id="d19" class="n"><rect x="2219" y="520" width="28" height="53"/><text class="s" x="2233" y="546.5" transform="rotate(-90 2233 546.5)">-ság</text></g>
<g id="d20" class="n"><rect x="2187" y="627" width="26" height="52"/><text class="s" x="2200" y="653" transform="rotate(-90 2200 653)">-ó</text></g>
<g id="d21" class="n"><rect x="2220" y="627" width="27" height="52"/><text class="s" x="2233.5" y="653" transform="rotate(-90 2233.5 653)">-andó</text></g>
<g id="d22" class="n"><rect x="2253" y="627" width="24" height="52"/><text class="s" x="2265" y="653" transform="rotate(-90 2265 653)">-ás</text></g>
<g id="d23" class="n"><rect x="2202" y="732" width="59" height="74"/><text class="m" x="2231.5" y="769" transform="rotate(-90 2231.5 769)">-hat</text></g>
<g id="d24" class="n"><rect x="2188" y="838" width="29" height="54"/><text class="s" x="2202.5" y="865" transform="rotate(-90 2202.5 865)">-ó</text></g>
<g id="d25" class="n"><rect x="2248" y="838" width="26" height="54"/><text class="s" x="2261" y="865" transform="rotate(-90 2261 865)">-ás</text></g>
<g id="d26" class="n"><rect x="2197" y="957" width="70" height="84"/><text class="l" x="2232" y="999" transform="rotate(-90 2232 999)">-tat</text></g>
<g id="d27" class="n"><rect x="2290" y="732" width="24" height="55"/><text class="s" x="2302" y="759.5" transform="rotate(-90 2302 759.5)">-ság</text></g>
<g id="d28" class="n"><rect x="2351" y="732" width="31" height="55"/><text class="s" x="2366.5" y="759.5" transform="rotate(-90 2366.5 759.5)">-ság</text></g>
<g id="d29" class="n"><rect x="2390" y="732" width="28" height="55"/><text class="s" x="2404" y="759.5" transform="rotate(-90 2404 759.5)">-beli</text></g>
<g id="d30" class="n"><rect x="2293" y="835" width="23" height="54"/><text class="s" x="2304.5" y="862" transform="rotate(-90 2304.5 862)">-ó</text></g>
<g id="d31" class="n"><rect x="2322" y="835" width="26" height="54"/><text class="s" x="2335" y="862" transform="rotate(-90 2335 862)">-ott</text></g>
<g id="d32" class="n"><rect x="2356" y="835" width="28" height="54"/><text class="s" x="2370" y="862" transform="rotate(-90 2370 862)">-andó</text></g>
<g id="d33" class="n"><rect x="2393" y="835" width="28" height="54"/><text class="s" x="2407" y="862" transform="rotate(-90 2407 862)">-ás</text></g>
<g id="d34" class="n"><rect x="2319" y="955" width="72" height="82"/><text class="l" x="2355" y="996" transform="rotate(-90 2355 996)">-hat</text></g>
<g id="d35" class="n"><rect x="2482" y="624" width="26" height="54"/><text class="s" x="2495" y="651" transform="rotate(-90 2495 651)">-ó</text></g>
<g id="d36" class="n"><rect x="2514" y="624" width="27" height="54"/><text class="s" x="2527.5" y="651" transform="rotate(-90 2527.5 651)">-ott</text></g>
<g id="d37" class="n"><rect x="2547" y="624" width="26" height="54"/><text class="s" x="2560" y="651" transform="rotate(-90 2560 651)">-ás</text></g>
<g id="d38" class="n"><rect x="2498" y="729" width="62" height="74"/><text class="m" x="2529" y="766" transform="rotate(-90 2529 766)">-hat<tspan font-size="15" dy="-9">ik</tspan></text></g>
<g id="d39" class="n"><rect x="2488" y="835" width="28" height="52"/><text class="s" x="2502" y="861" transform="rotate(-90 2502 861)">-ás</text></g>
<g id="d40" class="n"><rect x="2545" y="835" width="29" height="52"/><text class="s" x="2559.5" y="861" transform="rotate(-90 2559.5 861)">-va</text></g>
<g id="d41" class="n"><rect x="2494" y="951" width="78" height="85"/><text class="l" x="2533" y="993.5" transform="rotate(-90 2533 993.5)">-ód<tspan font-size="19" dy="-11">ik</tspan></text></g>
<g id="d42" class="n"><rect x="2605" y="621" width="28" height="54"/><text class="s" x="2619" y="648" transform="rotate(-90 2619 648)">-ó</text></g>
<g id="d43" class="n"><rect x="2640" y="621" width="28" height="54"/><text class="s" x="2654" y="648" transform="rotate(-90 2654 648)">-ott</text></g>
<g id="d44" class="n"><rect x="2675" y="621" width="29" height="54"/><text class="s" x="2689.5" y="648" transform="rotate(-90 2689.5 648)">-andó</text></g>
<g id="d45" class="n"><rect x="2625" y="727" width="63" height="74"/><text class="m" x="2656.5" y="764" transform="rotate(-90 2656.5 764)">-hat<tspan font-size="15" dy="-9">ik</tspan></text></g>
<g id="d46" class="n"><rect x="2587" y="832" width="28" height="54"/><text class="s" x="2601" y="859" transform="rotate(-90 2601 859)">-ott</text></g>
<g id="d47" class="n"><rect x="2620" y="832" width="27" height="54"/><text class="s" x="2633.5" y="859" transform="rotate(-90 2633.5 859)">-andó</text></g>
<g id="d48" class="n"><rect x="2673" y="832" width="27" height="54"/><text class="s" x="2686.5" y="859" transform="rotate(-90 2686.5 859)">-ás</text></g>
<g id="d49" class="n"><rect x="2708" y="832" width="29" height="54"/><text class="s" x="2722.5" y="859" transform="rotate(-90 2722.5 859)">-va</text></g>
<g id="d50" class="n"><rect x="2620" y="951" width="80" height="83"/><text class="l" x="2660" y="992.5" transform="rotate(-90 2660 992.5)">-tat<tspan font-size="19" dy="-11">ik</tspan></text></g>
<g id="d51" class="n"><rect x="2774" y="520" width="28" height="46"/><text class="s" x="2788" y="543" transform="rotate(-90 2788 543)">-beli</text></g>
<g id="d52" class="n"><rect x="2745" y="619" width="26" height="55"/><text class="s" x="2758" y="646.5" transform="rotate(-90 2758 646.5)">-ó</text></g>
<g id="d53" class="n"><rect x="2778" y="619" width="24" height="55"/><text class="s" x="2790" y="646.5" transform="rotate(-90 2790 646.5)">-ás</text></g>
<g id="d54" class="n"><rect x="2812" y="619" width="27" height="55"/><text class="s" x="2825.5" y="646.5" transform="rotate(-90 2825.5 646.5)">-va</text></g>
<g id="d55" class="n"><rect x="2761" y="724" width="64" height="75"/><text class="m" x="2793" y="761.5" transform="rotate(-90 2793 761.5)">-hat</text></g>
<g id="d56" class="n"><rect x="2754" y="829" width="28" height="54"/><text class="s" x="2768" y="856" transform="rotate(-90 2768 856)">-ó</text></g>
<g id="d57" class="n"><rect x="2808" y="829" width="28" height="54"/><text class="s" x="2822" y="856" transform="rotate(-90 2822 856)">-ás</text></g>
<g id="d58" class="n"><rect x="2844" y="829" width="30" height="54"/><text class="s" x="2859" y="856" transform="rotate(-90 2859 856)">-va</text></g>
<g id="d59" class="n"><rect x="2760" y="949" width="78" height="84"/><text class="l" x="2799" y="991" transform="rotate(-90 2799 991)">-gat</text></g>
<g id="d60"><rect x="2415" y="1129" width="91" height="100" fill="#fff"/><path class="mb" d="M2433 1129H2415V1229H2439M2483 1229H2506V1129H2492"/><path class="vd" d="M2437 1129L2457 1142M2445 1129L2457 1142M2459 1129L2457 1142M2466 1129L2457 1142M2478 1129L2457 1142M2488 1129L2457 1142M2457 1142L2457 1156"/><g class="n"><text class="x" x="2459" y="1190" transform="rotate(-90 2459 1190)">-gat</text></g></g>
</g>
<g id="inner-dashes">
<path class="vd" d="M35 417V433M105 417V435M393.5 417V429M467 417V433M22.5 313V331M299 118V128M48.5 849V866M165.5 849V862M290 849V866M438 849V862M126.5 972V984M367 972V984M366.5 740V751M674 431V448M759 431V442M922 431V444M1165 431V448M1125.5 328V345M521 849V866M576 849V862M619.5 849V866M711 849V862M837.5 850V862M1003.5 850V860M548.5 970V987M664 970V982M785 970V979M1029 968V975M1232.5 967V973M549 742V753M782.5 742V752M1472 438V452M1553.5 438V446M1714 438V448M1955 438V452M1426 340V355M1611 340V350M1954 340V355M1354 850V865M1457 850V861M1565.5 847V856M1618 847V858M1981.5 631V647M2051 631V643M1440 967V976M1591.5 965V970M2016 735V745M2286 428V443M2340 428V437M2570.5 428V439M2304.5 837V853M2407 837V849M2790 621V634M2232 959V973M2355 957V965M2533 953V960M2799 951V959M2231.5 734V744M2793 726V736"/>
</g>
<g id="labels">
<text class="it" x="60" y="461" transform="rotate(-90 60 461)">1. adj.</text>
<text class="it" x="491" y="461" transform="rotate(-90 491 461)">2. subst.</text>
<text class="it" x="698" y="460" transform="rotate(-90 698 460)">1. adj.</text>
<text class="it" x="1189" y="465" transform="rotate(-90 1189 465)">2. subst.</text>
<text class="it" x="1498" y="470" transform="rotate(-90 1498 470)">1. adj.</text>
<text class="it" x="1982" y="461" transform="rotate(-90 1982 461)">2. subst.</text>
<text class="lb" font-size="23" transform="translate(1212 1470) rotate(192.5)">Kezdetést jelentő Igék. <tspan font-size="17">(Verba Inchoativa Neutra.)</tspan></text>
<text class="lb" font-size="22" transform="translate(1296 1460) rotate(210.5)">Kezdést jelentők. <tspan font-size="16">(V. Inchoat. Activa.)</tspan></text>
<text class="lb" font-size="22" transform="translate(1350 1464) rotate(-31.6)">Tartósságot jelentők. <tspan font-size="17">(V. Durativa Neutra.)</tspan></text>
<text class="lb" font-size="23" transform="translate(1426 1474) rotate(-13.3)">Folytatást jelentők. <tspan font-size="17">(V. Continuativa Activa.)</tspan></text>
<text class="rt" transform="translate(1240 1552) rotate(-90)" textLength="62" lengthAdjust="spacingAndGlyphs">For-</text>
<text class="rt" transform="translate(1276 1552) rotate(-90)" textLength="46" lengthAdjust="spacingAndGlyphs">In-</text>
<text class="rt" transform="translate(1311 1552) rotate(-90)" textLength="78" lengthAdjust="spacingAndGlyphs">Moz-</text>
<text class="rt" transform="translate(1346 1552) rotate(-90)" textLength="74" lengthAdjust="spacingAndGlyphs">Buz-</text>
<text class="rt" transform="translate(1383 1552) rotate(-90)" textLength="74" lengthAdjust="spacingAndGlyphs">Kon-</text>
<text class="lb" font-size="15" transform="translate(1218 1548) rotate(-90)">P. o.</text>
<text class="lb" font-size="15" transform="translate(1418 1545) rotate(-90)">s a t.</text>
<text x="1316" y="1577" font-size="24" font-weight="bold" text-anchor="middle" textLength="143" lengthAdjust="spacing">Gyökérszók</text>
<text x="730" y="893" font-size="88" fill="#9a9a9a" opacity="0.35" textLength="1540" lengthAdjust="spacingAndGlyphs">BCU Cluj / Central University Library Cluj</text>
</g>
</svg>
